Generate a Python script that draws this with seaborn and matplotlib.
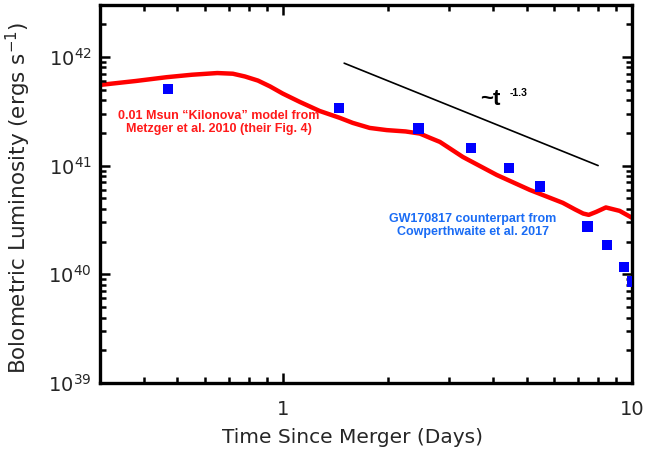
import numpy as np
import pandas as pd
import seaborn as sns
import matplotlib.pyplot as plt
from matplotlib.ticker import LogLocator, LogFormatterMathtext, NullFormatter

# model curve (Metzger et al. 2010)
t_model = [0.30, 0.38, 0.465, 0.55, 0.65, 0.72, 0.78, 0.85, 0.92, 1.0, 1.12, 1.276,
           1.456, 1.587, 1.775, 1.986, 2.25, 2.47, 2.64, 2.82, 3.28, 4.10, 5.10,
           6.34, 6.87, 7.25, 7.52, 7.9, 8.42, 9.22, 10.0]
L_model = [5.52e41, 6.0e41, 6.5e41, 6.85e41, 7.1e41, 7.0e41, 6.6e41, 6.05e41,
           5.35e41, 4.6e41, 3.85e41, 3.18e41, 2.75e41, 2.47e41, 2.22e41, 2.12e41,
           2.06e41, 1.97e41, 1.80e41, 1.65e41, 1.20e41, 8.2e40, 5.97e40, 4.54e40,
           3.95e40, 3.62e40, 3.52e40, 3.75e40, 4.12e40, 3.83e40, 3.31e40]

# GW170817 counterpart points
t_obs = [0.47, 1.45, 2.45, 3.46, 4.45, 5.46, 7.46, 8.5, 9.5, 10.0]
L_obs = [5.1e41, 3.4e41, 2.2e41, 1.45e41, 9.5e40, 6.4e40, 2.75e40, 1.86e40, 1.17e40, 8.6e39]

# power law guide ~t^-1.3
t_pl = [1.5, 8.0]
L_pl = [8.75e41, 1.0e41]

df_model = pd.DataFrame({'t': t_model, 'L': L_model})
df_obs = pd.DataFrame({'t': t_obs, 'L': L_obs})
df_pl = pd.DataFrame({'t': t_pl, 'L': L_pl})

sns.set_style('ticks', {'xtick.direction': 'in', 'ytick.direction': 'in'})
plt.rcParams['font.family'] = ['DejaVu Sans']
plt.rcParams['mathtext.default'] = 'regular'
plt.rcParams['axes.axisbelow'] = False

fig = plt.figure(figsize=(6.46, 4.51), dpi=100)
ax = fig.add_axes([0.1548, 0.1508, 0.8235, 0.8381])

sns.lineplot(ax=ax, data=df_model, x='t', y='L', color='#ff0000', lw=3.2,
             sort=False, estimator=None)
sns.lineplot(ax=ax, data=df_pl, x='t', y='L', color='black', lw=1.2,
             sort=False, estimator=None)
sns.scatterplot(ax=ax, data=df_obs, x='t', y='L', color='#0000ff', marker='s',
                s=55, edgecolor='none', zorder=5)

ax.set_xscale('log')
ax.set_yscale('log')
ax.set_xlim(0.3, 10)
ax.set_ylim(1e39, 3e42)

ax.set_xticks([1, 10])
ax.set_xticklabels(['1', '10'])
ax.xaxis.set_minor_locator(LogLocator(base=10, subs=np.arange(2, 10)))
ax.xaxis.set_minor_formatter(NullFormatter())
ax.set_yticks([1e39, 1e40, 1e41, 1e42])
ax.yaxis.set_major_formatter(LogFormatterMathtext())
ax.yaxis.set_minor_locator(LogLocator(base=10, subs=np.arange(2, 10)))
ax.yaxis.set_minor_formatter(NullFormatter())

ax.tick_params(which='both', direction='in', top=True, right=True, bottom=True,
               left=True, color='black')
ax.tick_params(which='major', length=7, width=1.8, labelsize=14)
ax.tick_params(which='minor', length=4, width=1.8)
ax.tick_params(axis='x', which='major', pad=12)
ax.tick_params(axis='y', which='major', pad=6)
for sp in ax.spines.values():
    sp.set_linewidth(2.4)
    sp.set_color('black')

ax.set_xlabel('Time Since Merger (Days)', fontsize=14.5)
ax.set_ylabel('Bolometric Luminosity (ergs s$^{-1}$)', fontsize=15.5)
ax.xaxis.set_label_coords(0.474, -0.118)
ax.yaxis.set_label_coords(-0.126, 0.49)

bold = dict(family='Liberation Sans', fontweight='bold')
ax.text(0.656, 2.47e41, '0.01 Msun \u201cKilonova\u201d model from\nMetzger et al. 2010 (their Fig. 4)',
        color='#ff1a1a', fontsize=9, ha='center', va='center', linespacing=1.1, **bold)
ax.text(3.50, 2.79e40, 'GW170817 counterpart from\nCowperthwaite et al. 2017',
        color='#1a6cf5', fontsize=9, ha='center', va='center', linespacing=1.1, **bold)
ax.text(3.67, 3.6e41, '~t', color='black', fontsize=16, ha='left', va='baseline', **bold)
ax.text(4.47, 4.7e41, '-1.3', color='black', fontsize=7.5, ha='left', va='center', **bold)

fig.savefig('out.png', dpi=100)
